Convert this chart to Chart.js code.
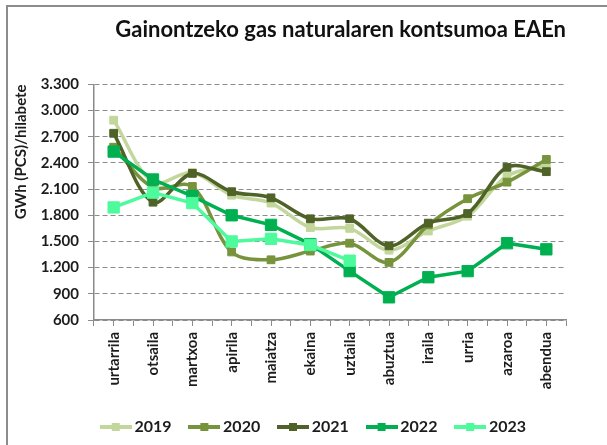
<!DOCTYPE html>
<html>
<head>
<meta charset="utf-8">
<script src="https://cdn.jsdelivr.net/npm/chart.js@4/dist/chart.umd.min.js"></script>
<style>
  html, body { margin: 0; padding: 0; background: #fff; }
  canvas { display: block; }
</style>
</head>
<body>
<canvas id="chart" width="607" height="445"></canvas>
<script>
const months = ['urtarrila', 'otsaila', 'martxoa', 'apirila', 'maiatza', 'ekaina', 'uztaila', 'abuztua', 'iraila', 'urria', 'azaroa', 'abendua']

const y2019 = [2890, 2180, 2290, 2030, 1940, 1660, 1650, 1400, 1620, 1790, 2250, 2370]
const y2020 = [2580, 2120, 2130, 1380, 1290, 1390, 1480, 1260, 1690, 1990, 2180, 2440]
const y2021 = [2740, 1950, 2280, 2070, 2000, 1760, 1760, 1450, 1710, 1820, 2350, 2300]
const y2022 = [2530, 2210, 2020, 1800, 1690, 1470, 1160, 860, 1090, 1160, 1480, 1410]
const y2023 = [1890, 2060, 1940, 1500, 1530, 1460, 1280, null, null, null, null, null]

const yMin = 600, yMax = 3300, yStep = 300

const font = 'Lato'
const textColor = '#1c1c1c'
const axisGray = '#8a8a8a'
const gridGray = '#8c8c8c'

const series = [
  ['2019', y2019, '#c3d69b', 5.5, 0.33],
  ['2020', y2020, '#77933c', 5.5, 0.33],
  ['2021', y2021, '#4f6228', 5.5, 0.33],
  ['2022', y2022, '#00b050', 8, 0],
  ['2023', y2023, '#4dfa9c', 8, 0],
]

const thousands = v => String(v).replace(/\B(?=(\d{3})+(?!\d))/g, '.')

// small line + square used as legend symbol
const legendIcon = (col) => {
  const c = document.createElement('canvas')
  c.width = 32
  c.height = 12
  const ctx = c.getContext('2d')
  ctx.strokeStyle = ctx.fillStyle = col
  ctx.lineWidth = 4
  ctx.beginPath()
  ctx.moveTo(0, 6)
  ctx.lineTo(32, 6)
  ctx.stroke()
  ctx.fillRect(12, 2, 8, 8)
  return c
}

const datasets = series.map(([label, data, col, radius, tension], i) => ({
  label: label,
  data: data,
  borderColor: col,
  backgroundColor: col,
  pointBackgroundColor: col,
  pointBorderColor: col,
  pointBorderWidth: 1,
  pointStyle: 'rect',
  pointRadius: radius,
  borderWidth: 3.5,
  tension: tension,
  fill: false,
  spanGaps: false,
  order: series.length - i,
}))

const tickFont = { family: font, size: 15, weight: 'bold' }

new Chart(document.getElementById('chart').getContext('2d'), {
  type: 'line',
  data: {
    labels: months,
    datasets: datasets,
  },
  options: {
    responsive: false,
    animation: false,
    devicePixelRatio: 1,
    layout: {
      padding: { left: 30, right: 41, top: 0, bottom: 0 }
    },
    scales: {
      xc: {
        type: 'category',
        position: 'bottom',
        offset: true,
        weight: -1,
        grid: { offset: false, drawOnChartArea: false, tickLength: 6, color: axisGray },
        border: { display: false },
        ticks: { display: false },
        afterFit: s => { s.height = 0 }
      },
      x: {
        type: 'category',
        position: 'bottom',
        offset: true,
        grid: { offset: true, drawOnChartArea: false, tickLength: 6, color: axisGray },
        border: { color: axisGray, width: 1.5 },
        ticks: {
          font: tickFont,
          color: textColor,
          padding: 6,
          minRotation: 90,
          maxRotation: 90,
          autoSkip: false,
        },
        afterFit: s => { s.height = 77 }
      },
      y: {
        min: yMin,
        max: yMax,
        grid: { color: gridGray, lineWidth: 1, tickLength: 6 },
        border: { color: axisGray, width: 1.5, dash: [5, 3] },
        ticks: {
          stepSize: yStep,
          font: tickFont,
          color: textColor,
          padding: 9,
          callback: v => thousands(v),
        },
        title: {
          display: true,
          text: 'GWh (PCS)/hilabete',
          align: 'end',
          font: { family: font, size: 15, weight: 'bold' },
          color: textColor,
          padding: { top: -18, bottom: 0 },
        },
        afterFit: s => { s.width = 64 }
      }
    },
    plugins: {
      title: {
        display: true,
        text: 'Gainontzeko gas naturalaren kontsumoa EAEn',
        align: 'end',
        color: '#111',
        font: { family: font, size: 22, weight: 'bold' },
        padding: { top: 17, bottom: 41 },
      },
      legend: {
        position: 'bottom',
        labels: {
          font: { family: font, size: 16, weight: 'bold' },
          color: textColor,
          padding: 22,
          usePointStyle: true,
          pointStyleWidth: 21.5,
          generateLabels: chart => chart.data.datasets.map((ds, i) => ({
            text: ds.label,
            pointStyle: legendIcon(ds.borderColor),
            fillStyle: ds.borderColor,
            strokeStyle: ds.borderColor,
            lineWidth: 0,
            fontColor: textColor,
            hidden: !chart.isDatasetVisible(i),
            datasetIndex: i,
          })),
        }
      },
      tooltip: { enabled: false },
    }
  },
  plugins: [{
    id: 'frame',
    afterLayout: (chart) => {
      // legend row sits a little right of the canvas centre
      chart.legend.left += 17.5
      chart.legend.right += 17.5
    },
    beforeDraw: (chart) => {
      const ctx = chart.ctx
      ctx.save()
      ctx.fillStyle = '#fff'
      ctx.fillRect(0, 0, chart.width, chart.height)
      ctx.fillStyle = '#8c8c8c'
      ctx.fillRect(6, 5, 2, chart.height - 5)
      ctx.fillRect(6, 5, chart.width - 6, 2)
      ctx.restore()
    }
  }],
})
</script>
</body>
</html>
